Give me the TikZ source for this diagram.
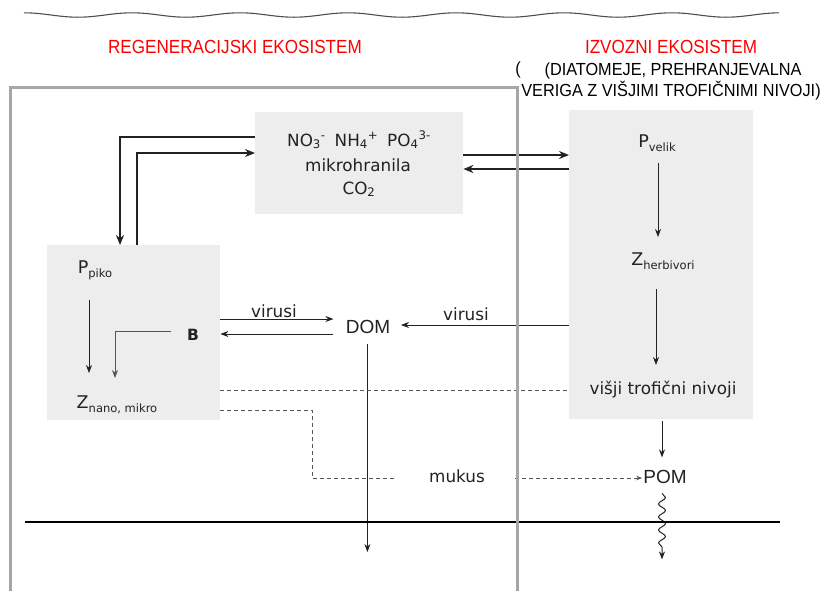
\documentclass[tikz,border=0pt]{standalone}
\usepackage{fontspec}
\setmainfont{DejaVu Sans}
\newfontfamily\narrowfont[FakeStretch=0.9]{Liberation Sans}
\newfontfamily\subnarrowfont[FakeStretch=0.93]{Liberation Sans}
\newfontfamily\arialfont{Liberation Sans}
\usetikzlibrary{arrows.meta,decorations.pathmorphing,calc}
\definecolor{boxgray}{HTML}{EDEDED}
\definecolor{framegray}{HTML}{A6A6A6}
\definecolor{ink}{HTML}{222222}
\definecolor{dashgray}{HTML}{555555}
\definecolor{titlered}{HTML}{FF0000}
\newcommand\subtxt[2]{#1\raisebox{-4pt}{\fontsize{11.5}{12}\selectfont #2}}
\begin{document}
\begin{tikzpicture}[x=1pt,y=-1pt,
  box/.style={fill=boxgray,draw=none,inner sep=0pt,anchor=north west},
  txt/.style={inner sep=0pt,anchor=base,text=ink,font=\fontsize{16.8}{18}\selectfont},
  bigtxt/.style={inner sep=0pt,anchor=base,text=ink,font=\arialfont\fontsize{19}{20}\selectfont},
  ttl/.style={inner sep=0pt,anchor=base,text=titlered,font=\narrowfont\fontsize{19}{20}\selectfont},
  subttl/.style={inner sep=0pt,anchor=base,text=black,font=\subnarrowfont\fontsize{17.5}{18}\selectfont},
  thickarrow/.style={draw=ink,line width=1.7pt,-{Stealth[length=10pt,width=8pt]}},
  thinarrow/.style={draw=ink,line width=0.8pt,-{Stealth[length=8pt,width=6pt]}},
  grayarrow/.style={draw=dashgray,line width=0.8pt,-{Stealth[length=8pt,width=6pt]}},
  dsh/.style={draw=dashgray,line width=0.9pt,dash pattern=on 4pt off 3pt}]
\useasboundingbox (0,0) rectangle (827,590);
\fill[white] (0,0) rectangle (827,590);

% top wavy surface
\draw[line width=1.1pt,draw=ink!80] plot[domain=24:779,samples=300,smooth] (\x,{15-2.2*cos(3.3333*(\x-24))});

% titles
\node[ttl] (t1) at (235,53) {REGENERACIJSKI EKOSISTEM};
\node[ttl] (t2) at (671,53) {IZVOZNI EKOSISTEM};
\node[subttl] (s1) at (673,75) {(DIATOMEJE, PREHRANJEVALNA};
\node[subttl] (s2) at (671,96) {VERIGA Z VIŠJIMI TROFIČNIMI NIVOJI)};
\node[subttl] (par) at (518,74) {(};

% boxes
\node[box,minimum width=208pt,minimum height=102pt] (nut) at (255,112) {};
\node[box,minimum width=173pt,minimum height=175pt] (pico) at (47,245) {};
\node[box,minimum width=184pt,minimum height=309pt] (vel) at (569,110) {};

% texts in nutrient box
\node[txt] (n1) at (359,146) {NO\textsubscript{3}\textsuperscript{-}\hspace{9pt}NH\textsubscript{4}\textsuperscript{+}\hspace{9pt}PO\textsubscript{4}\textsuperscript{3-}};
\node[txt] (n2) at (358,171) {mikrohranila};
\node[txt] (n3) at (359,194) {CO\textsubscript{2}};

% regeneration box texts
\node[txt,font=\fontsize{17.5}{18}\selectfont] (ppiko) at (95,273) {\subtxt{P}{piko}};
\node[txt,font=\bfseries\fontsize{15.5}{16}\selectfont] (bb) at (193,340) {B};
\node[txt,font=\fontsize{17.5}{18}\selectfont] (znano) at (117,408) {\subtxt{Z}{nano, mikro}};

% export box texts
\node[txt,font=\fontsize{17.5}{18}\selectfont] (pvel) at (657,147) {\subtxt{P}{velik}};
\node[txt,font=\fontsize{17.5}{18}\selectfont] (zherb) at (663,265) {\subtxt{Z}{herbivori}};
\node[txt] (visji) at (663,394) {višji trofični nivoji};

% middle texts
\node[bigtxt,inner xsep=11pt] (dom) at (368,333) {DOM};
\node[bigtxt] (pom) at (665,483) {POM};
\node[txt] (vir1) at (274,317) {virusi};
\node[txt] (vir2) at (466,320) {virusi};
\node[txt] (mukus) at (457,482) {mukus};

% thick nutrient arrows
\draw[thickarrow] ($(nut.north west)+(0,25)$) -| ($(pico.north west)+(73,0)$);
\draw[thickarrow] ($(pico.north west)+(90,0)$) |- ($(nut.north west)+(0,41)$);
\draw[thickarrow] ($(nut.north east)+(0,43)$) -- ($(vel.north west)+(0,45)$);
\draw[thickarrow] ($(vel.north west)+(0,59)$) -- ($(nut.north east)+(0,57)$);

% inside regeneration box
\draw[thinarrow] ($(pico.north west)+(42,55)$) -- ($(pico.north west)+(42,128)$);
\draw[grayarrow] ($(pico.north west)+(124,86)$) -| ($(pico.north west)+(68,133)$);

% virus arrows
\draw[thinarrow] ($(pico.north east)+(0,74)$) -- ($(pico.north east)+(113,74)$);
\draw[thinarrow] ($(pico.north east)+(113,89)$) -- ($(pico.north east)+(0,89)$);
\draw[thinarrow] ($(vel.north west)+(0,215)$) -- ($(vel.north west)+(-168,215)$);

% DOM sinking
\draw[thinarrow] ($(pico.north east)+(147,99)$) -- ($(pico.north east)+(147,307)$);

% dashed links
\draw[dsh] ($(pico.north east)+(0,145)$) -- ($(vel.north west)+(0,280)$);
\draw[dsh] ($(pico.north east)+(0,165)$) -- ++(92,0) |- ($(mukus.base west)+(-32,-4)$);
\draw[dsh,-{Stealth[length=6pt,width=4.5pt]}] ($(mukus.base east)+(30,-4)$) -- ($(pom.base west)+(-1,-5)$);

% export chain
\draw[thinarrow] ($(vel.north west)+(89,53)$) -- ($(vel.north west)+(89,127)$);
\draw[thinarrow] ($(vel.north west)+(87,179)$) -- ($(vel.north west)+(87,255)$);
\draw[thinarrow,line width=1pt] ($(vel.south west)+(93,2)$) -- ($(vel.south west)+(93,38)$);
\draw[draw=ink,line width=1pt,-{Stealth[length=8pt,width=6pt]},
  decorate,decoration={snake,amplitude=3.5pt,segment length=13pt,post length=7pt}]
  ($(vel.south west)+(93,74)$) -- ($(vel.south west)+(93,140)$);

% sediment line
\draw[draw=black,line width=2pt] (25,522) -- (780,522);

% regeneration ecosystem frame
\draw[draw=framegray,line width=3pt] (10,600) -- (10,87) -- (517,87) -- (517,600);
\end{tikzpicture}
\end{document}
